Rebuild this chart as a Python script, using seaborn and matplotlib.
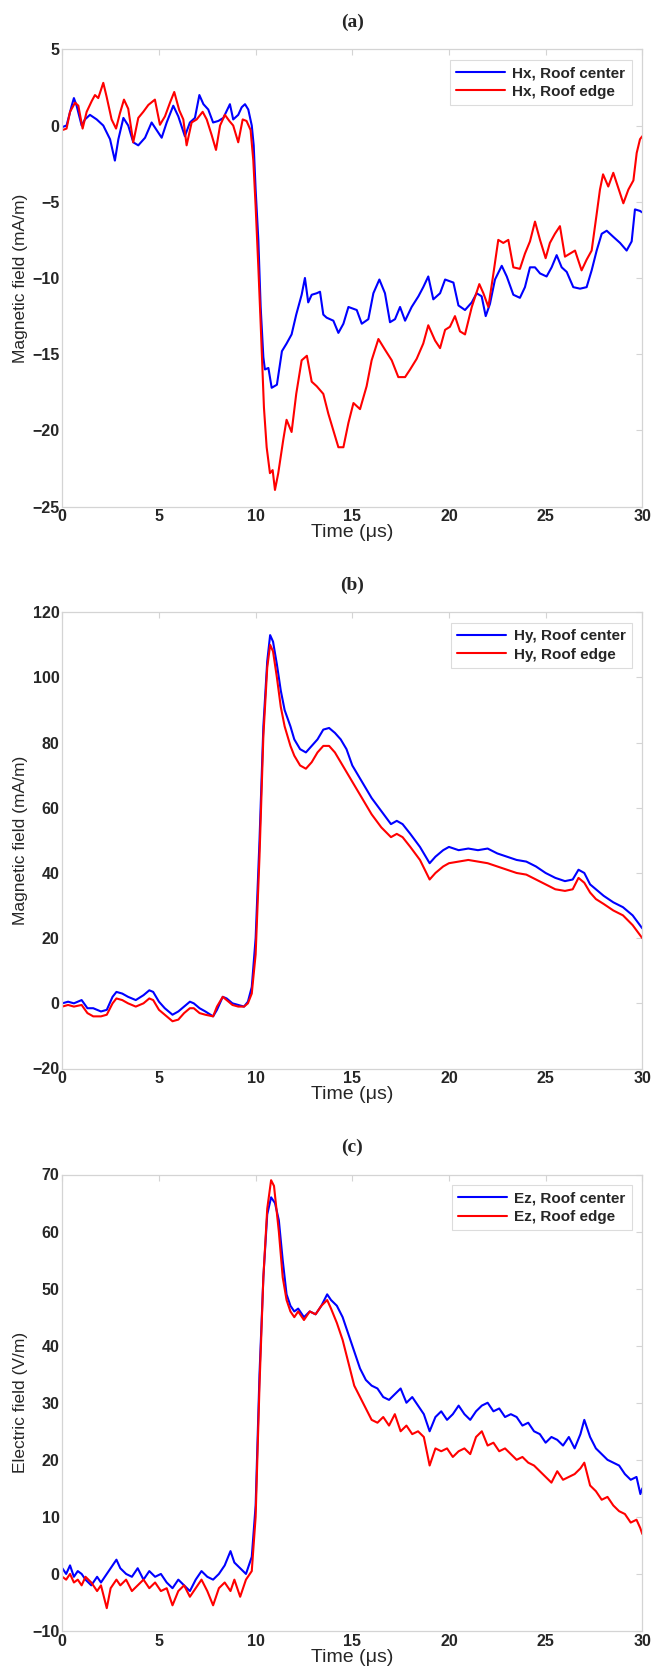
import numpy as np
import pandas as pd
import matplotlib
matplotlib.use("Agg")
import matplotlib.pyplot as plt
import seaborn as sns
from matplotlib import font_manager

# ---------------- data ----------------
# Panel (a): Hx
a_center_t = [0, 0.22, 0.48, 0.6, 0.74, 1.0, 1.17, 1.43, 1.78, 2.12, 2.47, 2.72, 2.9, 3.16, 3.41, 3.67,
              3.93, 4.28, 4.62, 4.88, 5.14, 5.4, 5.74, 6.0, 6.34, 6.6, 6.86, 7.09, 7.3, 7.55, 7.8, 8.07,
              8.33, 8.5, 8.67, 8.84, 9.1, 9.28, 9.45, 9.62, 9.8, 9.9, 10.0, 10.14, 10.26, 10.4, 10.48,
              10.66, 10.83, 11.1, 11.36, 11.6, 11.86, 12.1, 12.38, 12.55, 12.72, 12.9, 13.16, 13.33,
              13.5, 13.67, 14.02, 14.28, 14.54, 14.8, 15.23, 15.49, 15.83, 16.09, 16.4, 16.69, 16.95,
              17.21, 17.47, 17.73, 18.07, 18.42, 18.67, 18.93, 19.19, 19.54, 19.8, 20.23, 20.49, 20.83,
              21.18, 21.43, 21.69, 21.9, 22.12, 22.38, 22.73, 22.99, 23.33, 23.67, 23.93, 24.19, 24.45,
              24.71, 25.05, 25.31, 25.57, 25.83, 26.09, 26.43, 26.78, 27.12, 27.38, 27.64, 27.9, 28.16,
              28.5, 28.85, 29.19, 29.45, 29.62, 29.88, 30.0]
a_center_v = [-0.1, 0.0, 1.27, 1.8, 1.3, 0.0, 0.4, 0.7, 0.4, 0.0, -0.9, -2.3, -0.9, 0.5, 0.0, -1.1,
              -1.3, -0.8, 0.2, -0.3, -0.8, 0.2, 1.3, 0.6, -0.7, 0.2, 0.5, 2.0, 1.4, 1.05, 0.2, 0.3,
              0.5, 0.95, 1.4, 0.4, 0.7, 1.2, 1.4, 1.05, 0.0, -1.3, -4.2, -7.5, -11.9, -15.2, -16.0,
              -15.9, -17.2, -17.0, -14.8, -14.3, -13.7, -12.4, -11.1, -10.0, -11.6, -11.1, -11.0, -10.9,
              -12.4, -12.6, -12.8, -13.6, -13.0, -11.9, -12.1, -13.0, -12.7, -11.0, -10.1, -11.0, -12.9,
              -12.7, -11.9, -12.8, -11.9, -11.2, -10.6, -9.9, -11.4, -11.0, -10.1, -10.3, -11.8, -12.1,
              -11.6, -11.0, -11.2, -12.5, -11.7, -10.1, -9.2, -9.9, -11.1, -11.3, -10.6, -9.3, -9.3,
              -9.7, -9.9, -9.3, -8.5, -9.3, -9.6, -10.6, -10.7, -10.6, -9.5, -8.2, -7.1, -6.9,
              -7.3, -7.7, -8.2, -7.6, -5.5, -5.6, -5.7]

a_edge_t = [0, 0.22, 0.4, 0.66, 0.83, 1.05, 1.26, 1.52, 1.69, 1.86, 2.12, 2.29, 2.55, 2.78, 2.98, 3.19,
            3.41, 3.67, 3.93, 4.19, 4.45, 4.79, 5.05, 5.31, 5.57, 5.79, 6.05, 6.26, 6.43, 6.69, 6.95,
            7.26, 7.47, 7.72, 7.95, 8.16, 8.41, 8.64, 8.84, 9.1, 9.33, 9.53, 9.74, 9.88, 10.0, 10.14,
            10.26, 10.43, 10.57, 10.74, 10.88, 11.0, 11.17, 11.43, 11.6, 11.86, 12.1, 12.38, 12.65,
            12.9, 13.16, 13.5, 13.76, 14.02, 14.28, 14.54, 14.8, 15.06, 15.4, 15.74, 16.0, 16.35,
            16.69, 17.04, 17.38, 17.73, 17.99, 18.33, 18.67, 18.93, 19.28, 19.54, 19.8, 20.05, 20.31,
            20.57, 20.83, 21.18, 21.57, 21.78, 22.04, 22.3, 22.55, 22.81, 23.07, 23.33, 23.67, 23.93,
            24.19, 24.45, 24.71, 25.0, 25.22, 25.48, 25.74, 26.0, 26.26, 26.52, 26.86, 27.12, 27.38,
            27.64, 27.81, 27.97, 28.24, 28.5, 28.76, 29.02, 29.28, 29.54, 29.71, 29.88, 30.0]
a_edge_v = [-0.3, -0.2, 0.9, 1.5, 1.3, -0.2, 0.9, 1.6, 2.0, 1.8, 2.8, 1.9, 0.4, -0.2, 0.8, 1.7,
            1.1, -1.1, 0.5, 0.9, 1.35, 1.7, 0.05, 0.6, 1.5, 2.2, 1.0, 0.4, -1.3, 0.2, 0.4,
            0.9, 0.4, -0.6, -1.6, 0.0, 0.7, 0.3, 0.0, -1.1, 0.4, 0.3, -0.3, -2.3, -5.3, -9.3,
            -13.0, -18.5, -21.1, -22.8, -22.6, -23.9, -22.8, -20.6, -19.3, -20.1, -17.6, -15.4, -15.1,
            -16.8, -17.1, -17.6, -18.9, -20.0, -21.1, -21.1, -19.5, -18.2, -18.6, -17.1, -15.4, -14.0,
            -14.7, -15.4, -16.5, -16.5, -16.0, -15.3, -14.3, -13.1, -14.1, -14.6, -13.4, -13.2, -12.5,
            -13.5, -13.7, -11.9, -10.4, -11.0, -11.9, -9.7, -7.5, -7.7, -7.5, -9.3, -9.4, -8.4,
            -7.6, -6.3, -7.5, -8.7, -7.7, -7.1, -6.6, -8.6, -8.4, -8.2, -9.5, -8.8, -8.2,
            -5.8, -4.2, -3.2, -4.0, -3.1, -4.1, -5.1, -4.2, -3.6, -1.8, -0.9, -0.7]

# Panel (b): Hy
b_center_t = [0, 0.3, 0.6, 1.0, 1.3, 1.6, 2.0, 2.3, 2.6, 2.8, 3.1, 3.4, 3.8, 4.2, 4.5, 4.7, 5.0, 5.3,
              5.7, 6.0, 6.3, 6.6, 6.8, 7.1, 7.4, 7.8, 8.0, 8.3, 8.5, 8.8, 9.1, 9.4, 9.6, 9.8, 10.0,
              10.2, 10.4, 10.6, 10.75, 10.9, 11.1, 11.3, 11.5, 11.8, 12.0, 12.3, 12.6, 12.9, 13.2,
              13.5, 13.8, 14.1, 14.4, 14.7, 15.0, 15.5, 16.0, 16.5, 17.0, 17.3, 17.6, 18.0, 18.5,
              19.0, 19.3, 19.7, 20.0, 20.5, 21.0, 21.5, 22.0, 22.5, 23.0, 23.5, 24.0, 24.5, 25.0,
              25.5, 26.0, 26.4, 26.7, 27.0, 27.3, 27.6, 28.0, 28.5, 29.0, 29.5, 30.0]
b_center_v = [0, 0.5, 0, 1.0, -1.5, -1.5, -2.5, -2.0, 2.0, 3.5, 3.0, 2.0, 1.0, 2.5, 4.0, 3.5, 0.5, -1.5,
              -3.5, -2.5, -1.0, 0.5, 0.0, -1.5, -2.5, -4.0, -2.0, 2.0, 1.5, 0.0, -0.5, -1.0, 0.5, 5.0, 20,
              50, 85, 105, 113, 111, 104, 96, 90, 85, 81, 78, 77, 79, 81,
              84, 84.5, 83, 81, 78, 73, 68, 63, 59, 55, 56, 55, 52, 48,
              43, 45, 47, 48, 47, 47.5, 47, 47.5, 46, 45, 44, 43.5, 42, 40,
              38.5, 37.5, 38, 41, 40, 36.5, 35, 33, 31, 29.5, 27, 23]

b_edge_t = [0, 0.3, 0.6, 1.0, 1.3, 1.6, 2.0, 2.3, 2.6, 2.8, 3.1, 3.4, 3.8, 4.2, 4.5, 4.7, 5.0, 5.3,
            5.7, 6.0, 6.3, 6.6, 6.8, 7.1, 7.4, 7.8, 8.0, 8.3, 8.5, 8.8, 9.1, 9.4, 9.6, 9.8, 10.0,
            10.2, 10.4, 10.6, 10.75, 10.9, 11.1, 11.3, 11.5, 11.8, 12.0, 12.3, 12.6, 12.9, 13.2,
            13.5, 13.8, 14.1, 14.4, 14.7, 15.0, 15.5, 16.0, 16.5, 17.0, 17.3, 17.6, 18.0, 18.5,
            19.0, 19.3, 19.7, 20.0, 20.5, 21.0, 21.5, 22.0, 22.5, 23.0, 23.5, 24.0, 24.5, 25.0,
            25.5, 26.0, 26.4, 26.7, 27.0, 27.3, 27.6, 28.0, 28.5, 29.0, 29.5, 30.0]
b_edge_v = [-1.0, -0.5, -1.0, -0.5, -3.0, -4.0, -4.0, -3.5, 0.0, 1.5, 1.0, 0.0, -1.0, 0.0, 1.5, 1.0, -2.0, -3.5,
            -5.5, -5.0, -3.0, -1.5, -1.5, -3.0, -3.5, -4.0, -1.0, 2.0, 1.0, -0.5, -1.0, -1.0, 0.0, 3.0, 15,
            45, 82, 103, 110, 108, 100, 91, 85, 79, 76, 73, 72, 74, 77,
            79, 79, 77, 74, 71, 68, 63, 58, 54, 51, 52, 51, 48, 44,
            38, 40, 42, 43, 43.5, 44, 43.5, 43, 42, 41, 40, 39.5, 38, 36.5,
            35, 34.5, 35, 38.5, 37, 34, 32, 30.5, 28.5, 27, 24, 20]

# Panel (c): Ez
c_center_t = [0, 0.2, 0.4, 0.6, 0.8, 1.0, 1.2, 1.5, 1.8, 2.0, 2.3, 2.5, 2.8, 3.0, 3.3, 3.6, 3.9, 4.2,
              4.5, 4.8, 5.1, 5.4, 5.7, 6.0, 6.3, 6.6, 6.9, 7.2, 7.5, 7.8, 8.1, 8.4, 8.7, 8.9, 9.2,
              9.5, 9.8, 10.0, 10.2, 10.4, 10.6, 10.8, 11.0, 11.2, 11.4, 11.6, 11.8, 12.0, 12.2,
              12.5, 12.8, 13.1, 13.4, 13.7, 13.9, 14.2, 14.5, 14.8, 15.1, 15.4, 15.7, 16.0, 16.3,
              16.6, 16.9, 17.2, 17.5, 17.8, 18.1, 18.4, 18.7, 19.0, 19.3, 19.6, 19.9, 20.2, 20.5,
              20.8, 21.1, 21.4, 21.7, 22.0, 22.3, 22.6, 22.9, 23.2, 23.5, 23.8, 24.1, 24.4, 24.7,
              25.0, 25.3, 25.6, 25.9, 26.2, 26.5, 26.8, 27.0, 27.3, 27.6, 27.9, 28.2, 28.5, 28.8,
              29.1, 29.4, 29.7, 29.9, 30.0]
c_center_v = [1.0, 0.0, 1.5, -0.5, 0.5, 0.0, -1.0, -2.0, -0.5, -1.5, 0.0, 1.0, 2.5, 1.0, 0.0, -0.5, 1.0, -1.0,
              0.5, -0.5, 0.0, -1.5, -2.5, -1.0, -2.0, -3.0, -1.0, 0.5, -0.5, -1.0, 0.0, 1.5, 4.0, 2.0, 1.0,
              0.0, 3.0, 12, 35, 52, 63, 66, 65, 62, 55, 49, 47, 46, 46.5,
              45, 46, 45.5, 47, 49, 48, 47, 45, 42, 39, 36, 34, 33, 32.5,
              31, 30.5, 31.5, 32.5, 30, 31, 29.5, 28, 25, 27.5, 28.5, 27, 28, 29.5,
              28, 27, 28.5, 29.5, 30, 28.5, 29, 27.5, 28, 27.5, 26, 26.5, 25, 24.5,
              23, 24, 23.5, 22.5, 24, 22, 24.5, 27, 24, 22, 21, 20, 19.5, 19,
              17.5, 16.5, 17, 14, 15]

c_edge_t = [0, 0.2, 0.4, 0.6, 0.8, 1.0, 1.2, 1.5, 1.8, 2.0, 2.3, 2.5, 2.8, 3.0, 3.3, 3.6, 3.9, 4.2,
            4.5, 4.8, 5.1, 5.4, 5.7, 6.0, 6.3, 6.6, 6.9, 7.2, 7.5, 7.8, 8.1, 8.4, 8.7, 8.9, 9.2,
            9.5, 9.8, 10.0, 10.2, 10.4, 10.6, 10.8, 10.95, 11.2, 11.4, 11.6, 11.8, 12.0, 12.2,
            12.5, 12.8, 13.1, 13.4, 13.7, 13.9, 14.2, 14.5, 14.8, 15.1, 15.4, 15.7, 16.0, 16.3,
            16.6, 16.9, 17.2, 17.5, 17.8, 18.1, 18.4, 18.7, 19.0, 19.3, 19.6, 19.9, 20.2, 20.5,
            20.8, 21.1, 21.4, 21.7, 22.0, 22.3, 22.6, 22.9, 23.2, 23.5, 23.8, 24.1, 24.4, 24.7,
            25.0, 25.3, 25.6, 25.9, 26.2, 26.5, 26.8, 27.0, 27.3, 27.6, 27.9, 28.2, 28.5, 28.8,
            29.1, 29.4, 29.7, 29.9, 30.0]
c_edge_v = [-0.5, -1.0, 0.0, -1.5, -1.0, -2.0, -0.5, -1.5, -3.0, -2.0, -6.0, -2.5, -1.0, -2.0, -1.0, -3.0, -2.0, -1.0,
            -2.5, -1.5, -3.0, -2.5, -5.5, -3.0, -2.0, -4.0, -2.5, -1.0, -3.0, -5.5, -2.5, -1.5, -3.0, -1.0, -4.0,
            -1.0, 0.5, 10, 33, 52, 64, 69, 68, 60, 52, 48, 46, 45, 46,
            44.5, 46, 45.5, 47, 48, 46.5, 44, 41, 37, 33, 31, 29, 27, 26.5,
            27.5, 26, 28, 25, 26, 24.5, 25, 24, 19, 22, 21.5, 22, 20.5, 21.5,
            22, 21, 24, 25, 22.5, 23, 21.5, 22, 21, 20, 20.5, 19.5, 19, 18,
            17, 16, 18, 16.5, 17, 17.5, 18.5, 19.5, 15.5, 14.5, 13, 13.5, 12, 11,
            10.5, 9, 9.5, 8, 7]

panels = [
    dict(tag="(a)", comp="Hx", ylabel="Magnetic field (mA/m)", ylim=(-25, 5), yticks=[-25, -20, -15, -10, -5, 0, 5],
         ct=a_center_t, cv=a_center_v, et=a_edge_t, ev=a_edge_v),
    dict(tag="(b)", comp="Hy", ylabel="Magnetic field (mA/m)", ylim=(-20, 120), yticks=[-20, 0, 20, 40, 60, 80, 100, 120],
         ct=b_center_t, cv=b_center_v, et=b_edge_t, ev=b_edge_v),
    dict(tag="(c)", comp="Ez", ylabel="Electric field (V/m)", ylim=(-10, 70), yticks=[-10, 0, 10, 20, 30, 40, 50, 60, 70],
         ct=c_center_t, cv=c_center_v, et=c_edge_t, ev=c_edge_v),
]

# ---------------- plotting ----------------
sns.set_style("white")
plt.rcParams['font.family'] = ['Liberation Sans', 'DejaVu Sans']

names = {f.name for f in font_manager.fontManager.ttflist}
narrow = 'Liberation Sans Narrow' if 'Liberation Sans Narrow' in names else 'Liberation Sans'

W, H = 652, 1678
fig = plt.figure(figsize=(W / 100, H / 100), dpi=100)

gray = "#d4d4d4"
axes_px = [(49.3, 506.7), (612.3, 1068.5), (1174.5, 1631.0)]
title_y = [22, 585, 1147]
left_px, right_px = 62.3, 642.3

for p, (top, bot), ty in zip(panels, axes_px, title_y):
    ax = fig.add_axes([left_px / W, 1 - bot / H, (right_px - left_px) / W, (bot - top) / H])
    df = pd.concat([
        pd.DataFrame({"t": p["ct"], "v": p["cv"], "s": f"{p['comp']}, Roof center"}),
        pd.DataFrame({"t": p["et"], "v": p["ev"], "s": f"{p['comp']}, Roof edge"}),
    ])
    sns.lineplot(data=df, x="t", y="v", hue="s", palette=["#0000ff", "#ff0000"],
                 linewidth=1.5, ax=ax, estimator=None, sort=False)
    ax.set_xlim(0, 30)
    ax.set_ylim(*p["ylim"])
    ax.set_xticks([0, 5, 10, 15, 20, 25, 30])
    ax.set_yticks(p["yticks"])
    for s in ax.spines.values():
        s.set_color(gray)
        s.set_linewidth(0.9)
    ax.tick_params(direction="in", length=4, width=0.8, color=gray, top=True, right=True,
                   labelsize=11.5, pad=2)
    for lab in ax.get_xticklabels() + ax.get_yticklabels():
        lab.set_fontweight("bold")
    ax.set_xlabel("Time (μs)", fontsize=14, labelpad=0, family=[narrow, 'DejaVu Sans'])
    ax.set_ylabel(p["ylabel"], fontsize=12.5, labelpad=3)
    leg = ax.legend(loc="upper right", frameon=True, fancybox=False,
                    handlelength=3.2, borderpad=0.4, labelspacing=0.3, handletextpad=0.5,
                    borderaxespad=0.7, prop={"weight": "bold", "size": 11})
    leg.get_frame().set_edgecolor(gray)
    leg.get_frame().set_linewidth(0.8)
    leg.set_title(None)
    fig.text(0.5 * (left_px + right_px) / W, 1 - ty / H, p["tag"], ha="center", va="center",
             fontsize=14, fontweight="bold", family="Liberation Serif")

fig.savefig("out.png", dpi=100, facecolor="white")
